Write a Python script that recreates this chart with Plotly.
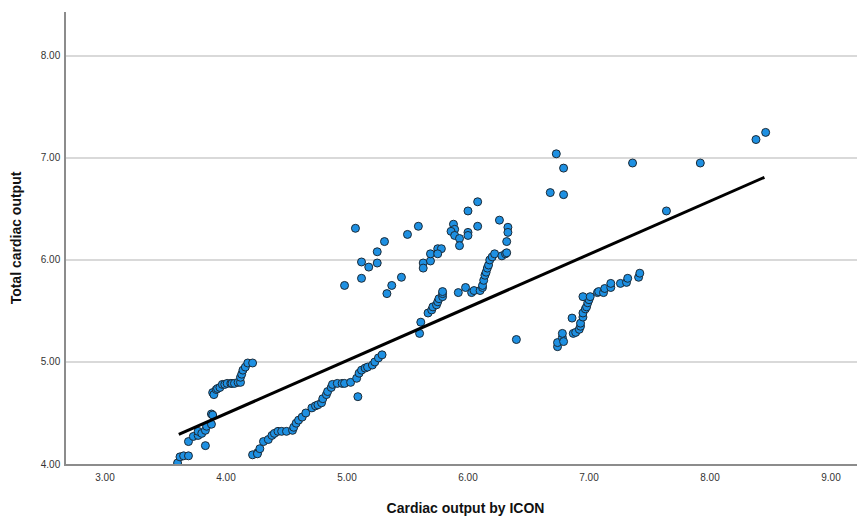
import plotly.graph_objects as go

# Cardiac output by ICON (x) vs Total cardiac output (y)
icon_co = [
    # cluster 1
    3.60, 3.62, 3.65, 3.69, 3.69, 3.73, 3.77, 3.77, 3.80, 3.83, 3.84, 3.88, 3.88, 3.89, 3.83,
    3.89, 3.90, 3.92, 3.93, 3.95, 3.97, 3.99, 4.01, 4.04, 4.05, 4.07, 4.10, 4.12, 4.12, 4.13,
    4.14, 4.16, 4.18, 4.22,
    # cluster 2
    4.22, 4.26, 4.26, 4.28, 4.31, 4.35, 4.38, 4.40, 4.43, 4.46, 4.50, 4.55, 4.56, 4.58, 4.60,
    4.63, 4.66, 4.71, 4.74, 4.76, 4.79, 4.80, 4.83, 4.84, 4.87, 4.88, 4.92, 4.96, 4.98, 5.03,
    5.08, 5.10, 5.12, 5.15, 5.17, 5.21, 5.23, 5.26, 5.29, 5.09,
    # upper scattered
    5.07, 4.98, 5.12, 5.12, 5.18, 5.25, 5.25, 5.31, 5.50, 5.59, 5.45, 5.37, 5.33,
    5.63, 5.63, 5.69, 5.69, 5.75, 5.78, 5.75,
    5.88, 5.89, 5.86, 5.89, 5.93, 5.93, 6.00, 6.08, 6.00, 6.00, 6.08, 6.26, 6.33, 6.33, 6.32,
    5.92, 5.98,
    # diagonal 5.6-5.8
    5.60, 5.61, 5.67, 5.70, 5.71, 5.74, 5.75, 5.76, 5.79, 5.79, 5.79,
    # diagonal 5.8-6.2
    6.03, 6.05, 6.10, 6.12, 6.12, 6.13, 6.14, 6.15, 6.16, 6.17, 6.18, 6.20, 6.22, 6.28, 6.31,
    6.32, 6.40,
    # right cluster
    6.74, 6.74, 6.78, 6.79, 6.78, 6.86, 6.87, 6.89, 6.92, 6.93, 6.93, 6.95, 6.95, 6.97, 6.98,
    6.99, 7.00, 6.95, 7.01, 7.07, 7.08, 7.12, 7.13, 7.18, 7.18, 7.26, 7.31, 7.32, 7.41, 7.42,
    # outliers
    6.73, 6.79, 6.68, 6.79, 7.36, 7.92, 7.64, 8.38, 8.46,
]
total_co = [
    4.01, 4.07, 4.08, 4.08, 4.22, 4.27, 4.28, 4.32, 4.30, 4.33, 4.37, 4.39, 4.49, 4.48, 4.18,
    4.70, 4.68, 4.73, 4.74, 4.75, 4.78, 4.78, 4.79, 4.79, 4.79, 4.79, 4.80, 4.80, 4.85, 4.88,
    4.92, 4.95, 4.99, 4.99,
    4.09, 4.11, 4.10, 4.15, 4.22, 4.24, 4.28, 4.30, 4.32, 4.32, 4.32, 4.33, 4.36, 4.40, 4.43,
    4.46, 4.50, 4.55, 4.57, 4.58, 4.60, 4.64, 4.68, 4.71, 4.75, 4.78, 4.79, 4.79, 4.79, 4.80,
    4.84, 4.89, 4.92, 4.94, 4.95, 4.97, 5.00, 5.04, 5.07, 4.66,
    6.31, 5.75, 5.82, 5.98, 5.93, 5.97, 6.08, 6.18, 6.25, 6.33, 5.83, 5.75, 5.67,
    5.97, 5.92, 5.99, 6.06, 6.11, 6.11, 6.06,
    6.35, 6.30, 6.28, 6.24, 6.21, 6.14, 6.48, 6.57, 6.27, 6.24, 6.33, 6.39, 6.32, 6.27, 6.18,
    5.68, 5.73,
    5.28, 5.39, 5.48, 5.51, 5.54, 5.56, 5.59, 5.62, 5.64, 5.67, 5.69,
    5.68, 5.70, 5.70, 5.73, 5.75, 5.80, 5.85, 5.88, 5.92, 5.95, 6.00, 6.03, 6.06, 6.04, 6.06,
    6.07, 5.22,
    5.15, 5.19, 5.24, 5.20, 5.28, 5.43, 5.28, 5.29, 5.32, 5.35, 5.38, 5.44, 5.48, 5.52, 5.54,
    5.58, 5.61, 5.64, 5.64, 5.68, 5.69, 5.68, 5.72, 5.73, 5.77, 5.77, 5.78, 5.82, 5.83, 5.87,
    7.04, 6.90, 6.66, 6.64, 6.95, 6.95, 6.48, 7.18, 7.25,
]

# Fit line
fit_x = [3.61, 8.45]
fit_y = [4.29, 6.81]

x_ticks = [3, 4, 5, 6, 7, 8, 9]
x_labels = ["3.00", "4.00", "5.00", "6.00", "7.00", "8.00", "9.00"]
y_ticks = [4, 5, 6, 7, 8]
y_labels = ["4.00", "5.00", "6.00", "7.00", "8.00"]

fig = go.Figure()
fig.add_trace(go.Scatter(
    x=icon_co, y=total_co, mode="markers",
    marker=dict(size=8, color="#1E90E2", line=dict(color="#1c2a36", width=1)),
    showlegend=False, hoverinfo="x+y",
))
fig.add_trace(go.Scatter(
    x=fit_x, y=fit_y, mode="lines",
    line=dict(color="black", width=3), showlegend=False, hoverinfo="skip",
))

# page body has an 8px margin, so the figure is 8px smaller and offset
fig.update_layout(
    width=857, height=508,
    margin=dict(l=58, r=0, t=4, b=52),
    paper_bgcolor="white", plot_bgcolor="white",
    font=dict(family="Liberation Sans, Arial, sans-serif", color="#333333"),
    xaxis=dict(
        range=[2.678, 9.281], tickvals=x_ticks, ticktext=x_labels,
        showgrid=False, zeroline=False,
        showline=True, linecolor="#8c8c8c", linewidth=1.5,
        ticks="outside", ticklen=3, tickcolor="rgba(0,0,0,0)",
        tickfont=dict(size=10, color="#333333"),
        title=dict(text="<b>Cardiac output by ICON</b>", standoff=21,
                   font=dict(size=14, color="#111111")),
    ),
    yaxis=dict(
        range=[4.0, 8.43], tickvals=y_ticks, ticktext=y_labels,
        showgrid=True, gridcolor="#d9d9d9", gridwidth=1.5, zeroline=False,
        showline=True, linecolor="#8c8c8c", linewidth=1.5,
        ticks="outside", ticklen=2, tickcolor="rgba(0,0,0,0)",
        tickfont=dict(size=10, color="#333333"),
        title=dict(text="<b>Total cardiac output</b>", standoff=16,
                   font=dict(size=14, color="#111111")),
    ),
)

fig.write_html("out.html")
